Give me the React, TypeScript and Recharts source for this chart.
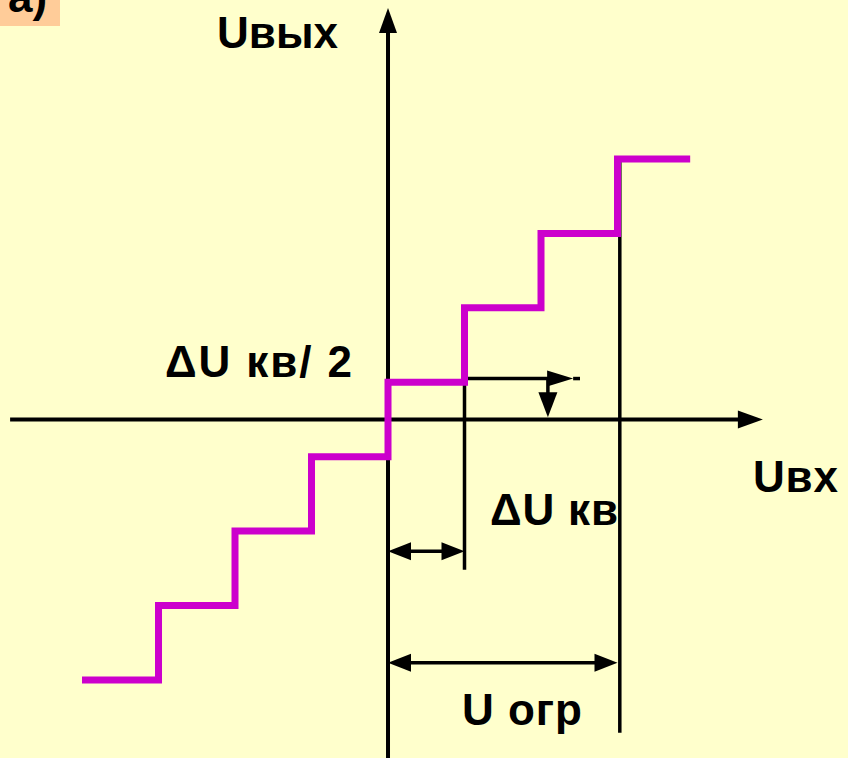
import React from 'react';
import { ComposedChart, Line, XAxis, YAxis, ReferenceLine } from 'recharts';

// quantiser staircase: input (in ΔU кв units) vs output level
const stairX = [-4.0, -3, -2, -1, 0, 1, 2, 3, 3.95];
const stairY = [-3.5, -2.5, -1.5, -0.5, 0.5, 1.5, 2.5, 3.5, 3.5];
const staircase = stairX.map((x, i) => ({ x, y: stairY[i] }));

const xDomain = [-5.072, 6.013];
const yDomain = [-4.55, 5.638];

// axes
const uInAxis = [{ x: -4.94, y: 0 }, { x: 4.9, y: 0 }];
const uOutAxis = [{ x: 0, y: -4.55 }, { x: 0, y: 5.53 }];

// helper lines / dimension arrows
const stepGuide = [{ x: 1, y: 0.5 }, { x: 1, y: -2.02 }];
const limitGuide = [{ x: 3.03, y: 3.5 }, { x: 3.03, y: -4.21 }];
const stepDim = [{ x: 0, y: -1.77 }, { x: 1, y: -1.77 }];
const limitDim = [{ x: 0, y: -3.27 }, { x: 3.0, y: -3.27 }];
const halfLine = [{ x: 1, y: 0.55 }, { x: 2.42, y: 0.55 }];
const halfTail = [{ x: 2.42, y: 0.55 }, { x: 2.51, y: 0.55 }];
const halfDown = [{ x: 2.09, y: 0.55 }, { x: 2.09, y: 0.03 }];

const arrow = (start: boolean, end: boolean, len = 24, half = 9, width = 3.5) => (props: any) => {
    const { x1, y1, x2, y2 } = props;
    const dx = x2 - x1;
    const dy = y2 - y1;
    const d = Math.sqrt(dx * dx + dy * dy) || 1;
    const ux = dx / d;
    const uy = dy / d;
    const nx = -uy;
    const ny = ux;
    const head = (tx: number, ty: number, sx: number, sy: number) => {
        const bx = tx - sx * len;
        const by = ty - sy * len;
        return `${tx},${ty} ${bx + nx * half},${by + ny * half} ${bx - nx * half},${by - ny * half}`;
    };
    const ax = start ? x1 + ux * (len - 2) : x1;
    const ay = start ? y1 + uy * (len - 2) : y1;
    const bx = end ? x2 - ux * (len - 2) : x2;
    const by = end ? y2 - uy * (len - 2) : y2;
    return (
        <g>
            <line x1={ax} y1={ay} x2={bx} y2={by} stroke="#000" strokeWidth={width} />
            {end && <polygon points={head(x2, y2, ux, uy)} fill="#000" />}
            {start && <polygon points={head(x1, y1, -ux, -uy)} fill="#000" />}
        </g>
    );
};

const textStyle = {
    fontFamily: '"Liberation Sans", Arial, sans-serif',
    fontWeight: 700,
    fontSize: 44,
    fill: '#000',
};

export default function App() {
    return (
        <div style={{ position: 'absolute', left: 0, top: 0, width: 848, height: 758, background: '#FFFFCC', overflow: 'hidden' }}>
            <div style={{ position: 'absolute', left: 0, top: 0, width: 60, height: 26, background: '#FFCC99' }} />
            <ComposedChart width={848} height={758} data={staircase} margin={{ top: 0, right: 0, bottom: 0, left: 0 }}>
                <XAxis dataKey="x" type="number" domain={xDomain} allowDataOverflow hide />
                <YAxis type="number" domain={yDomain} allowDataOverflow hide />
                <ReferenceLine segment={uInAxis} shape={arrow(false, true, 25, 9, 4)} />
                <ReferenceLine segment={uOutAxis} shape={arrow(false, true, 25, 9, 4)} />
                <ReferenceLine segment={stepGuide} shape={arrow(false, false, 0, 0, 3.5)} />
                <ReferenceLine segment={limitGuide} shape={arrow(false, false, 0, 0, 3.5)} />
                <ReferenceLine segment={stepDim} shape={arrow(true, true, 23, 9, 3.5)} />
                <ReferenceLine segment={limitDim} shape={arrow(true, true, 23, 9, 3.5)} />
                <ReferenceLine segment={halfLine} shape={arrow(false, true, 26, 8, 3.5)} />
                <ReferenceLine segment={halfTail} shape={arrow(false, false, 0, 0, 3.5)} />
                <ReferenceLine segment={halfDown} shape={arrow(false, true, 25, 9.5, 3.5)} />
                <Line
                    type="stepAfter"
                    dataKey="y"
                    stroke="#CC00CC"
                    strokeWidth={7}
                    strokeLinecap="butt"
                    strokeLinejoin="miter"
                    dot={false}
                    activeDot={false}
                    isAnimationActive={false}
                />
                <text x={8} y={12} style={textStyle} fontSize={40}>а)</text>
                <text x={217} y={48} style={textStyle} textLength={121} lengthAdjust="spacing">Uвых</text>
                <text x={165} y={377} style={textStyle} textLength={187} lengthAdjust="spacing">ΔU кв/ 2</text>
                <text x={490} y={525} style={textStyle} textLength={128} lengthAdjust="spacing">ΔU кв</text>
                <text x={462} y={725} style={textStyle} textLength={120} lengthAdjust="spacing">U огр</text>
                <text x={753} y={492} style={textStyle} textLength={85} lengthAdjust="spacing">Uвх</text>
            </ComposedChart>
        </div>
    );
}
